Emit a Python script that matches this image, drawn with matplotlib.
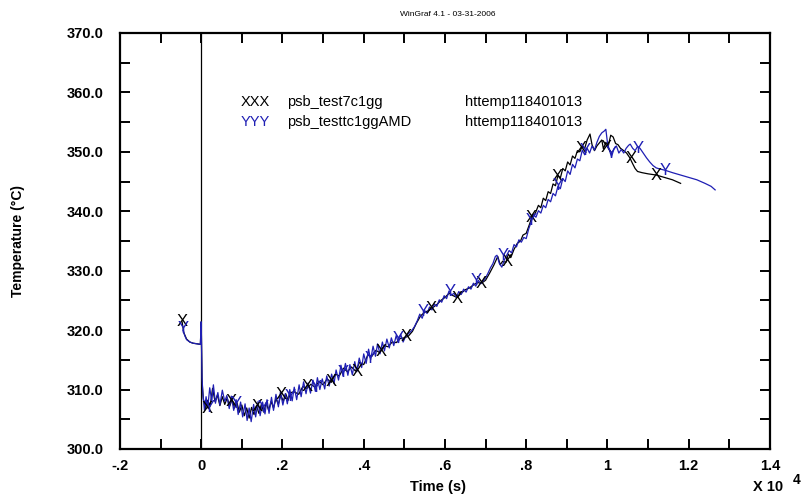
import matplotlib
matplotlib.use("Agg")
import matplotlib.pyplot as plt
from matplotlib.ticker import MultipleLocator, FuncFormatter

plt.rcParams['font.family'] = ['Liberation Sans', 'DejaVu Sans']

# ---------------- data (time in units of 10^4 s, temperature in °C) -------------
# blue series: psb_testtc1ggAMD  (time, temperature)
blue_points = [
    (-0.045, 320.0), (-0.040, 319.0), (-0.036, 318.4), (-0.028, 318.0), (-0.020, 317.8),
    (-0.010, 317.7), (-0.002, 317.6), (0.000, 321.4), (0.002, 312.0), (0.004, 309.5),
    (0.008, 306.5), (0.012, 308.8), (0.016, 306.9), (0.021, 310.3), (0.026, 308.0),
    (0.030, 310.8), (0.035, 307.7), (0.041, 309.5), (0.046, 307.4), (0.052, 309.9),
    (0.058, 308.0), (0.063, 309.0), (0.069, 306.8), (0.074, 308.9), (0.080, 306.5),
    (0.086, 308.3), (0.091, 305.8), (0.097, 307.9), (0.102, 305.4), (0.108, 307.6),
    (0.113, 304.8), (0.118, 306.9), (0.123, 304.6), (0.129, 307.5), (0.134, 305.4),
    (0.140, 308.0), (0.145, 305.6), (0.151, 307.9), (0.157, 305.9), (0.162, 308.3),
    (0.167, 306.0), (0.173, 308.7), (0.178, 306.5), (0.184, 309.2), (0.190, 307.1),
    (0.195, 309.6), (0.201, 307.4), (0.207, 309.3), (0.212, 307.6), (0.218, 310.0),
    (0.224, 308.1), (0.229, 310.4), (0.235, 308.3), (0.241, 310.8), (0.246, 308.8),
    (0.252, 311.3), (0.258, 309.3), (0.263, 311.1), (0.269, 309.4), (0.275, 311.6),
    (0.281, 309.7), (0.286, 312.0), (0.292, 310.0), (0.298, 311.8), (0.304, 310.1),
    (0.309, 312.3), (0.315, 310.6), (0.321, 312.6), (0.327, 311.0), (0.332, 313.3),
    (0.338, 311.6), (0.344, 314.1), (0.349, 312.3), (0.355, 314.4), (0.361, 312.4),
    (0.366, 314.2), (0.372, 312.5), (0.378, 314.7), (0.383, 313.0), (0.389, 315.3),
    (0.395, 313.7), (0.400, 316.0), (0.406, 314.4), (0.412, 316.8), (0.417, 315.0),
    (0.423, 317.3), (0.429, 315.6), (0.434, 317.7), (0.440, 316.0), (0.446, 318.0),
    (0.451, 316.5), (0.457, 318.5), (0.463, 317.0), (0.468, 318.7), (0.474, 317.4),
    (0.480, 319.1), (0.485, 317.9), (0.491, 319.3), (0.497, 318.0), (0.503, 318.9),
    (0.510, 319.4), (0.518, 319.9), (0.525, 320.6), (0.532, 321.6), (0.538, 322.7),
    (0.544, 322.0), (0.550, 323.3), (0.556, 322.8), (0.562, 323.9), (0.568, 323.4),
    (0.574, 324.4), (0.580, 324.0), (0.586, 325.1), (0.592, 324.7), (0.598, 325.8),
    (0.604, 325.3), (0.610, 326.6), (0.616, 325.9), (0.622, 326.2), (0.628, 325.5),
    (0.634, 326.5), (0.640, 326.0), (0.646, 326.9), (0.652, 326.4), (0.658, 327.3),
    (0.664, 326.9), (0.670, 327.9), (0.676, 327.4), (0.682, 328.4), (0.688, 327.8),
    (0.694, 328.3), (0.700, 328.8), (0.706, 329.6), (0.712, 330.5), (0.718, 331.2),
    (0.724, 332.4), (0.728, 332.6), (0.734, 331.2), (0.740, 330.6), (0.746, 331.8),
    (0.752, 332.6), (0.758, 333.4), (0.764, 333.0), (0.770, 334.4), (0.776, 334.0),
    (0.782, 335.2), (0.788, 334.8), (0.794, 335.6), (0.800, 335.4), (0.806, 337.0),
    (0.812, 338.2), (0.818, 339.4), (0.824, 339.0), (0.830, 340.1), (0.836, 339.7),
    (0.842, 341.0), (0.848, 340.6), (0.854, 342.0), (0.860, 341.6), (0.866, 343.0),
    (0.872, 342.6), (0.878, 344.2), (0.884, 343.8), (0.890, 345.5), (0.896, 345.0),
    (0.902, 346.8), (0.908, 346.2), (0.914, 347.9), (0.920, 347.3), (0.926, 348.8),
    (0.932, 348.5), (0.938, 350.3), (0.944, 349.5), (0.950, 350.6), (0.956, 349.8),
    (0.962, 351.0), (0.968, 350.3), (0.974, 351.6), (0.980, 352.6), (0.986, 353.2),
    (0.992, 353.5), (0.996, 353.8), (1.000, 351.5), (1.005, 350.2), (1.010, 349.2),
    (1.016, 350.5), (1.022, 351.0), (1.028, 349.8), (1.034, 350.4), (1.040, 349.8),
    (1.046, 350.6), (1.052, 351.1), (1.056, 351.3), (1.062, 350.6), (1.068, 350.2),
    (1.074, 350.9), (1.080, 350.6), (1.088, 349.8), (1.096, 349.0), (1.104, 348.3),
    (1.112, 347.7), (1.120, 347.3), (1.130, 347.1), (1.142, 346.9), (1.160, 346.5),
    (1.180, 346.1), (1.200, 345.7), (1.220, 345.3), (1.240, 344.7), (1.255, 344.2),
    (1.265, 343.6),
]

# black series: psb_test7c1gg  (time, temperature)
black_points = [
    (-0.047, 321.4), (-0.043, 319.6), (-0.036, 318.5), (-0.028, 318.0), (-0.020, 317.8),
    (-0.010, 317.7), (-0.002, 317.6), (0.000, 321.4), (0.002, 311.5), (0.005, 308.5),
    (0.010, 306.8), (0.016, 308.2), (0.022, 307.2), (0.028, 310.2), (0.034, 308.0),
    (0.040, 309.1), (0.046, 307.3), (0.052, 308.8), (0.058, 307.5), (0.064, 308.6),
    (0.070, 307.2), (0.076, 308.3), (0.082, 306.9), (0.088, 307.8), (0.094, 306.2),
    (0.100, 307.4), (0.106, 305.6), (0.112, 306.9), (0.118, 305.2), (0.124, 307.0),
    (0.130, 305.8), (0.136, 307.3), (0.142, 306.0), (0.148, 307.5), (0.154, 306.2),
    (0.160, 307.8), (0.166, 306.5), (0.172, 308.0), (0.178, 306.9), (0.184, 308.5),
    (0.190, 307.5), (0.196, 309.1), (0.202, 308.0), (0.208, 309.3), (0.214, 308.2),
    (0.220, 309.5), (0.230, 309.6), (0.240, 309.2), (0.250, 310.5), (0.260, 310.2),
    (0.270, 310.9), (0.280, 310.4), (0.290, 311.4), (0.300, 310.8), (0.310, 311.8),
    (0.320, 311.2), (0.330, 312.6), (0.340, 312.3), (0.350, 313.6), (0.360, 313.0),
    (0.370, 313.8), (0.380, 313.1), (0.390, 314.6), (0.400, 314.2), (0.410, 315.8),
    (0.420, 315.6), (0.430, 316.6), (0.440, 316.2), (0.450, 317.4), (0.460, 317.2),
    (0.470, 318.0), (0.480, 317.9), (0.490, 318.6), (0.500, 318.7), (0.510, 319.0),
    (0.520, 319.8), (0.530, 321.2), (0.540, 322.4), (0.550, 323.0), (0.560, 323.3),
    (0.570, 323.8), (0.580, 324.3), (0.590, 325.0), (0.600, 325.5), (0.610, 326.2),
    (0.620, 325.8), (0.630, 325.5), (0.640, 326.2), (0.650, 326.8), (0.660, 327.1),
    (0.670, 327.6), (0.680, 328.0), (0.690, 327.9), (0.700, 328.4), (0.710, 329.6),
    (0.720, 330.9), (0.730, 332.4), (0.736, 331.0), (0.742, 331.6), (0.750, 331.4),
    (0.756, 332.8), (0.762, 332.2), (0.770, 333.6), (0.778, 334.6), (0.786, 335.0),
    (0.792, 336.0), (0.800, 336.3), (0.808, 337.8), (0.815, 339.2), (0.822, 339.6),
    (0.830, 341.0), (0.836, 340.6), (0.842, 342.2), (0.848, 341.8), (0.854, 343.3),
    (0.860, 343.0), (0.866, 344.6), (0.872, 344.3), (0.878, 346.0), (0.884, 345.6),
    (0.890, 347.2), (0.896, 346.8), (0.902, 348.3), (0.908, 347.8), (0.914, 349.3),
    (0.920, 348.9), (0.926, 350.2), (0.932, 350.0), (0.938, 351.0), (0.944, 350.6),
    (0.950, 352.0), (0.957, 353.0), (0.962, 351.2), (0.968, 350.2), (0.974, 351.0),
    (0.980, 351.5), (0.986, 352.0), (0.990, 350.5), (0.996, 351.6), (1.002, 351.0),
    (1.008, 352.8), (1.014, 352.5), (1.020, 351.4), (1.026, 351.2), (1.032, 350.6),
    (1.040, 350.2), (1.047, 349.8), (1.055, 349.0), (1.062, 348.0), (1.068, 347.2),
    (1.074, 346.7), (1.085, 346.5), (1.100, 346.3), (1.120, 346.1), (1.140, 345.7),
    (1.160, 345.3), (1.180, 344.7),
]

blue_x = [p[0] for p in blue_points]
blue_y = [p[1] for p in blue_points]
black_x = [p[0] for p in black_points]
black_y = [p[1] for p in black_points]

# symbol positions (letters drawn on the curves)
black_mark_x = [-0.047, 0.014, 0.075, 0.137, 0.198, 0.260, 0.321, 0.383, 0.444, 0.505,
                0.567, 0.629, 0.690, 0.752, 0.813, 0.875, 0.936, 0.998, 1.058, 1.120]
black_mark_y = [321.5, 306.8, 308.0, 307.1, 309.1, 310.5, 311.3, 313.0, 316.4, 318.9,
                323.7, 325.4, 327.9, 331.5, 338.9, 345.8, 350.5, 350.7, 348.8, 346.1]
blue_mark_x = [-0.045, 0.020, 0.086, 0.152, 0.218, 0.284, 0.350, 0.417, 0.484, 0.546,
               0.612, 0.678, 0.743, 0.813, 0.879, 0.945, 1.008, 1.075, 1.143]
blue_mark_y = [320.3, 307.0, 307.6, 307.0, 308.8, 310.3, 312.8, 315.2, 318.6, 323.1,
               326.5, 328.3, 332.6, 338.5, 344.3, 350.3, 349.8, 350.6, 346.9]

series_names = ["psb_test7c1gg", "psb_testtc1ggAMD"]
series_tags = ["XXX", "YYY"]
series_vars = ["httemp118401013", "httemp118401013"]

BLUE = "#1f1fb4"

# ---------------- figure -----------------
fig = plt.figure(figsize=(8.05, 5.0), dpi=100)
ax = fig.add_axes([0.149, 0.102, 0.8075, 0.832])

ax.plot(black_x, black_y, color="black", lw=0.9, zorder=3)
ax.plot(blue_x, blue_y, color=BLUE, lw=0.9, zorder=4)

for x, y in zip(black_mark_x, black_mark_y):
    ax.text(x, y, "X", color="black", fontsize=12, ha="center", va="center", zorder=5)
for x, y in zip(blue_mark_x, blue_mark_y):
    ax.text(x, y, "Y", color=BLUE, fontsize=12, ha="center", va="center", zorder=6)

ax.axvline(0, color="black", lw=0.9, zorder=2)

ax.set_xlim(-0.2, 1.4)
ax.set_ylim(300, 370)
ax.xaxis.set_major_locator(MultipleLocator(0.2))
ax.xaxis.set_minor_locator(MultipleLocator(0.1))
ax.yaxis.set_major_locator(MultipleLocator(10))
ax.yaxis.set_minor_locator(MultipleLocator(5))


def xfmt(v, pos):
    if abs(v) < 1e-9:
        return "0"
    if abs(v - round(v)) < 1e-9:
        return "%d" % round(v)
    s = ("%.1f" % v)
    return s.replace("0.", ".")


ax.xaxis.set_major_formatter(FuncFormatter(xfmt))
ax.yaxis.set_major_formatter(FuncFormatter(lambda v, p: "%.1f" % v))

for sp in ax.spines.values():
    sp.set_linewidth(1.6)
ax.tick_params(which="both", direction="in", top=True, right=True,
               length=7, width=1.4)
ax.tick_params(axis="x", which="both", pad=7, labelsize=10.5)
ax.tick_params(axis="y", which="both", pad=12, labelsize=10.5)
for lab in ax.get_xticklabels() + ax.get_yticklabels():
    lab.set_fontweight("bold")

# legend block drawn as text
rows_y = [0.834, 0.786]
colors = ["black", BLUE]
for ry, tag, name, var, c in zip(rows_y, series_tags, series_names, series_vars, colors):
    ax.text(0.185, ry, tag, color=c, fontsize=10.5, transform=ax.transAxes,
            ha="left", va="center")
    ax.text(0.257, ry, name, color="black", fontsize=10.5, transform=ax.transAxes,
            ha="left", va="center")
    ax.text(0.531, ry, var, color="black", fontsize=10.5, transform=ax.transAxes,
            ha="left", va="center")

fig.text(0.556, 0.972, "WinGraf 4.1 - 03-31-2006", fontsize=6, ha="center", va="center")
fig.text(0.544, 0.026, "Time (s)", fontsize=10.5, fontweight="bold", ha="center", va="center")
fig.text(0.022, 0.518, "Temperature (\u00b0C)", fontsize=10, fontweight="bold",
         rotation=90, ha="center", va="center")
fig.text(0.936, 0.026, "X 10", fontsize=10.5, fontweight="bold", ha="left", va="center")
fig.text(0.990, 0.040, "4", fontsize=10, fontweight="bold", ha="center", va="center")

fig.savefig("out.png", dpi=100)
